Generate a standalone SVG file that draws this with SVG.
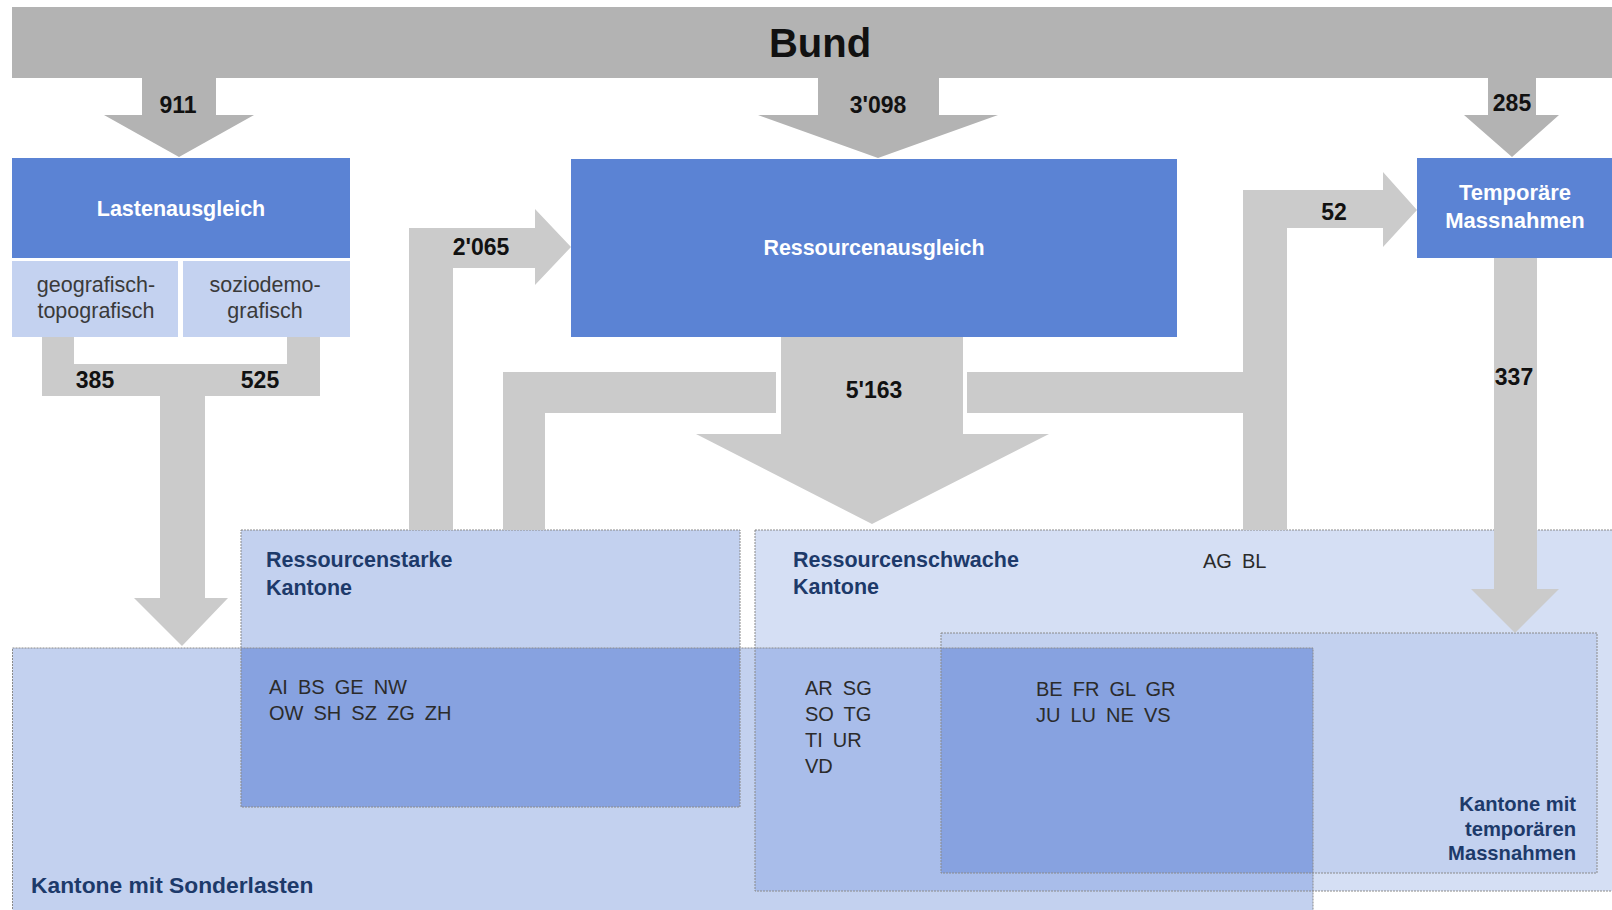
<svg xmlns="http://www.w3.org/2000/svg" width="1612" height="910" viewBox="0 0 1612 910">
<style>
  .bg{fill:#ffffff}
  .bund{fill:#b3b3b3}
  .flow{fill:#cbcbcb}
  .blue{fill:#5b83d4}
  .sub{fill:#c4d2f0}
  .fS{fill:#c3d1ef}
  .fW{fill:#d5dff4}
  .fM{fill:#a9bdea}
  .fD{fill:#87a2e0}
  .border{fill:none;stroke:#8a8a8a;stroke-width:1;stroke-dasharray:2 1}
  text{font-family:"Liberation Sans",Arial,sans-serif}
  .num{font-weight:bold;font-size:23px;fill:#111111;text-anchor:middle}
  .wt{font-weight:bold;fill:#ffffff;text-anchor:middle}
  .subt{font-size:21.5px;fill:#3a3a3a;text-anchor:middle}
  .rl{font-weight:bold;font-size:21.5px;fill:#1d3a6a}
  .rl2{font-weight:bold;font-size:20.2px;fill:#1d3a6a;text-anchor:end}
  .code{font-size:20px;fill:#2b2b2b;word-spacing:4.5px}
</style>
<rect class="bg" x="0" y="0" width="1612" height="910"/>

<g id="region-fills">
  <rect class="fS" x="12.5" y="648" width="1300.5" height="270"/>
  <rect class="fW" x="755" y="530" width="860" height="361"/>
  <rect class="fS" x="241" y="530" width="499" height="277"/>
  <rect class="fS" x="941" y="633" width="656" height="240"/>
  <rect class="fD" x="241" y="648" width="499" height="159"/>
  <rect class="fM" x="755" y="648" width="186" height="243"/>
  <rect class="fD" x="941" y="648" width="372" height="225"/>
  <rect class="fM" x="941" y="873" width="372" height="18"/>
</g>

<g id="node-sonderlasten">
  <rect class="border" x="12.5" y="648" width="1300.5" height="270"/>
  <text class="rl" x="31" y="893" style="font-size:22.8px">Kantone mit Sonderlasten</text>
</g>

<g id="node-ressourcenschwach">
  <rect class="border" x="755" y="530" width="870" height="361"/>
  <text class="rl" x="793" y="567">Ressourcenschwache</text>
  <text class="rl" x="793" y="594">Kantone</text>
  <text class="code" x="1203" y="568">AG BL</text>
  <text class="code" x="805" y="695">AR SG</text>
  <text class="code" x="805" y="721">SO TG</text>
  <text class="code" x="805" y="747">TI UR</text>
  <text class="code" x="805" y="773">VD</text>
</g>

<g id="node-ressourcenstark">
  <rect class="border" x="241" y="530" width="499" height="277"/>
  <text class="rl" x="266" y="567">Ressourcenstarke</text>
  <text class="rl" x="266" y="595">Kantone</text>
  <text class="code" x="269" y="694">AI BS GE NW</text>
  <text class="code" x="269" y="720">OW SH SZ ZG ZH</text>
</g>

<g id="node-temporaere-kantone">
  <rect class="border" x="941" y="633" width="656" height="240"/>
  <text class="code" x="1036" y="696">BE FR GL GR</text>
  <text class="code" x="1036" y="722">JU LU NE VS</text>
  <text class="rl2" x="1576" y="811">Kantone mit</text>
  <text class="rl2" x="1576" y="836">temporären</text>
  <text class="rl2" x="1576" y="860">Massnahmen</text>
</g>

<g id="connectors">
  <polygon class="bund" points="142,77 216,77 216,115 254,115 179,157 104,115 142,115"/>
  <polygon class="bund" points="818,77 939,77 939,115 998,115 878,158 758,115 818,115"/>
  <polygon class="bund" points="1488,77 1536,77 1536,115 1559,115 1512,157 1464,115 1488,115"/>
  <polygon class="flow" points="42,337 74,337 74,364 287,364 287,337 320,337 320,396 205,396 205,598 228,598 182,646 134,598 160,598 160,396 42,396"/>
  <polygon class="flow" points="409,530 409,228 535,228 535,209 571,247 535,285 535,268 453,268 453,530"/>
  <polygon class="flow" points="781,336 963,336 963,434 1049,434 872,524 696,434 781,434"/>
  <polygon class="flow" points="776,372 776,413 545,413 545,530 503,530 503,372"/>
  <polygon class="flow" points="967,372 1243,372 1243,190 1383,190 1383,172 1417,210 1383,247 1383,228 1287,228 1287,530 1243,530 1243,413 967,413"/>
  <polygon class="flow" points="1494,258 1537,258 1537,589 1559,589 1515,633 1471,589 1494,589"/>
  <text class="num" x="178" y="113">911</text>
  <text class="num" x="878" y="113">3'098</text>
  <text class="num" x="1512" y="111">285</text>
  <text class="num" x="481" y="255">2'065</text>
  <text class="num" x="95" y="388">385</text>
  <text class="num" x="260" y="388">525</text>
  <text class="num" x="874" y="398">5'163</text>
  <text class="num" x="1334" y="220">52</text>
  <text class="num" x="1514" y="385">337</text>
</g>

<g id="node-bund">
  <rect class="bund" x="12" y="7" width="1600" height="71"/>
  <text x="820" y="57" font-size="40" font-weight="bold" fill="#111111" text-anchor="middle">Bund</text>
</g>

<g id="node-lastenausgleich">
  <rect class="blue" x="12" y="158" width="338" height="100"/>
  <text class="wt" x="181" y="216" font-size="21.5">Lastenausgleich</text>
  <rect class="sub" x="12" y="261" width="166" height="76"/>
  <rect class="sub" x="183" y="261" width="167" height="76"/>
  <text class="subt" x="96" y="292">geografisch-</text>
  <text class="subt" x="96" y="318">topografisch</text>
  <text class="subt" x="265" y="292">soziodemo-</text>
  <text class="subt" x="265" y="318">grafisch</text>
</g>

<g id="node-ressourcenausgleich">
  <rect class="blue" x="571" y="159" width="606" height="178"/>
  <text class="wt" x="874" y="255" font-size="21.4">Ressourcenausgleich</text>
</g>

<g id="node-temporaere-massnahmen">
  <rect class="blue" x="1417" y="158" width="195" height="100"/>
  <text class="wt" x="1515" y="200" font-size="22">Temporäre</text>
  <text class="wt" x="1515" y="228" font-size="22">Massnahmen</text>
</g>
</svg>
